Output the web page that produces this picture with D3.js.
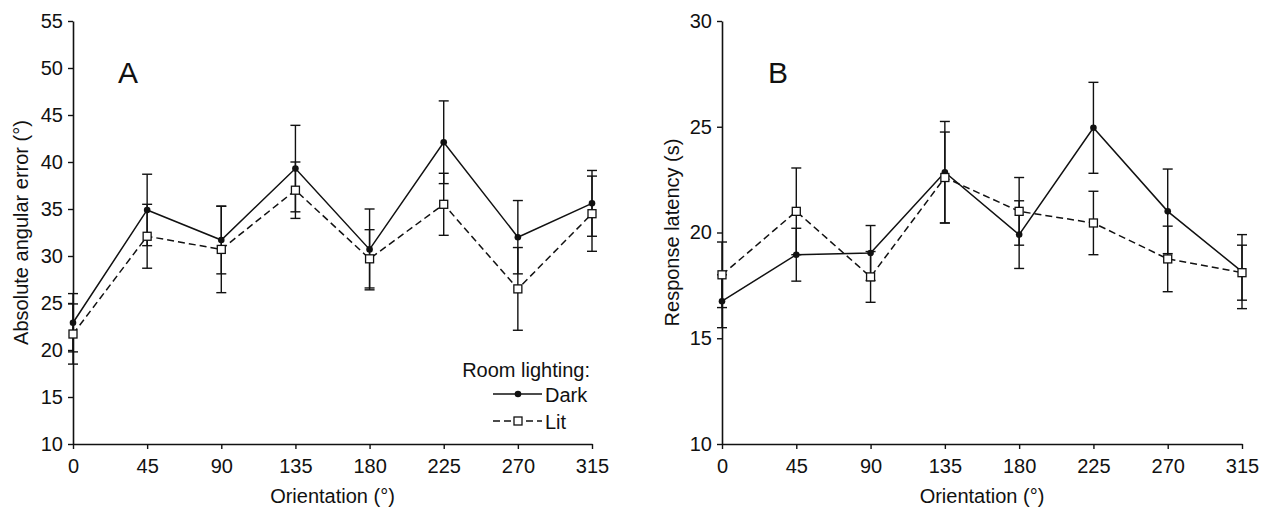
<!doctype html>
<html lang="en">
<head>
<meta charset="UTF-8" />
<title>Room lighting: error and latency</title>
<script src="https://d3js.org/d3.v7.min.js"></script>
<style>
  body { margin: 0; background: #fff; }
  svg text { font-family: "Liberation Sans", Arial, Helvetica, sans-serif; fill: #111; }
</style>
</head>
<body>
<div id="chart"></div>
<script>
// orientations (degrees)
var orientations = [0, 45, 90, 135, 180, 225, 270, 315];

// panel A: absolute angular error (deg)
var errorDark = [22.9, 34.9, 31.7, 39.3, 30.7, 42.1, 32.0, 35.6];
var errorDarkSE = [3.1, 3.8, 3.6, 4.6, 4.3, 4.4, 3.9, 3.5];
var errorLit = [21.7, 32.1, 30.7, 37.0, 29.7, 35.5, 26.5, 34.5];
var errorLitSE = [3.2, 3.4, 4.6, 3.0, 3.1, 3.3, 4.4, 4.0];

// panel B: response latency (s)
var latencyDark = [16.75, 18.95, 19.03, 22.85, 19.9, 24.95, 21.0, 18.15];
var latencyDarkSE = [1.25, 1.25, 1.3, 2.4, 1.6, 2.15, 2.0, 1.75];
var latencyLit = [18.0, 21.0, 17.9, 22.6, 21.0, 20.45, 18.75, 18.1];
var latencyLitSE = [1.55, 2.05, 1.2, 2.15, 1.6, 1.5, 1.55, 1.3];

var yTicksA = [10, 15, 20, 25, 30, 35, 40, 45, 50, 55];
var yTicksB = [10, 15, 20, 25, 30];
var legendTitle = 'Room lighting:';
var seriesNames = ['Dark', 'Lit'];

var width = 1270, height = 507;
var plotTop = 21, plotBottom = 444;

var svg = d3.select('#chart').append('svg')
    .attr('width', width)
    .attr('height', height);

function drawPanel(opts) {
    var x = d3.scaleLinear().domain([0, 315]).range([opts.left, opts.right]);
    var y = d3.scaleLinear()
        .domain([opts.yTicks[0], opts.yTicks[opts.yTicks.length - 1]])
        .range([plotBottom, plotTop]);
    var g = svg.append('g');

    // axes
    var xAxis = g.append('g')
        .attr('transform', 'translate(0,' + plotBottom + ')')
        .call(d3.axisBottom(x).tickValues(orientations).tickSize(5).tickPadding(10).tickSizeOuter(0));
    var yAxis = g.append('g')
        .attr('transform', 'translate(' + opts.left + ',0)')
        .call(d3.axisLeft(y).tickValues(opts.yTicks).tickSize(5).tickPadding(5).tickSizeOuter(0));
    [xAxis, yAxis].forEach(function (a) {
        a.select('.domain').attr('stroke', '#111').attr('stroke-width', 1.6);
        a.selectAll('.tick line').attr('stroke', '#111').attr('stroke-width', 1.4);
        a.selectAll('.tick text').attr('font-size', '20px').attr('font-family', null);
    });

    g.append('text')
        .attr('x', (opts.left + opts.right) / 2)
        .attr('y', 503)
        .attr('text-anchor', 'middle')
        .attr('font-size', '20px')
        .text('Orientation (°)');

    g.append('text')
        .attr('transform', 'translate(' + (opts.left - opts.ylabOffset) + ',' + ((plotTop + plotBottom) / 2) + ') rotate(-90)')
        .attr('text-anchor', 'middle')
        .attr('font-size', '20px')
        .text(opts.ylabel);

    g.append('text')
        .attr('x', opts.left + opts.letterDx)
        .attr('y', 83)
        .attr('font-size', '30px')
        .text(opts.letter);

    var series = [
        { name: 'Dark', vals: opts.dark, se: opts.darkSE, dash: null },
        { name: 'Lit', vals: opts.lit, se: opts.litSE, dash: '7,4' }
    ];

    // error bars
    series.forEach(function (s) {
        var eb = g.append('g').attr('stroke', '#111').attr('stroke-width', 1.4);
        orientations.forEach(function (o, i) {
            var hi = y(s.vals[i] + s.se[i]), lo = y(s.vals[i] - s.se[i]), cx = x(o);
            eb.append('line').attr('x1', cx).attr('x2', cx).attr('y1', hi).attr('y2', lo);
            eb.append('line').attr('x1', cx - 5).attr('x2', cx + 5).attr('y1', hi).attr('y2', hi);
            eb.append('line').attr('x1', cx - 5).attr('x2', cx + 5).attr('y1', lo).attr('y2', lo);
        });
    });

    var line = d3.line()
        .x(function (d, i) { return x(orientations[i]); })
        .y(function (d) { return y(d); });

    series.forEach(function (s) {
        g.append('path')
            .datum(s.vals)
            .attr('fill', 'none')
            .attr('stroke', '#111')
            .attr('stroke-width', 1.5)
            .attr('stroke-dasharray', s.dash)
            .attr('d', line);
    });

    // markers
    g.append('g').selectAll('circle')
        .data(opts.dark)
        .enter().append('circle')
        .attr('cx', function (d, i) { return x(orientations[i]); })
        .attr('cy', function (d) { return y(d); })
        .attr('r', 3.3)
        .attr('fill', '#111');

    g.append('g').selectAll('rect')
        .data(opts.lit)
        .enter().append('rect')
        .attr('x', function (d, i) { return x(orientations[i]) - 4; })
        .attr('y', function (d) { return y(d) - 4; })
        .attr('width', 8)
        .attr('height', 8)
        .attr('fill', '#fff')
        .attr('stroke', '#111')
        .attr('stroke-width', 1.3);

    if (opts.legend) drawLegend(opts.right);
}

function drawLegend(right) {
    var lg = svg.append('g');
    lg.append('text')
        .attr('x', right - 2)
        .attr('y', 377)
        .attr('text-anchor', 'end')
        .attr('font-size', '20px')
        .text(legendTitle);

    seriesNames.forEach(function (name, i) {
        var ly = 394 + i * 27;
        lg.append('line')
            .attr('x1', 493).attr('x2', 542)
            .attr('y1', ly).attr('y2', ly)
            .attr('stroke', '#111')
            .attr('stroke-width', 1.5)
            .attr('stroke-dasharray', i === 1 ? '7,4' : null);
        if (i === 0) {
            lg.append('circle').attr('cx', 518).attr('cy', ly).attr('r', 3.3).attr('fill', '#111');
        } else {
            lg.append('rect').attr('x', 514).attr('y', ly - 4).attr('width', 8).attr('height', 8)
                .attr('fill', '#fff').attr('stroke', '#111').attr('stroke-width', 1.3);
        }
        lg.append('text')
            .attr('x', 545)
            .attr('y', ly + 8)
            .attr('font-size', '20px')
            .text(name);
    });
}

drawPanel({
    left: 73, right: 592, yTicks: yTicksA,
    dark: errorDark, darkSE: errorDarkSE, lit: errorLit, litSE: errorLitSE,
    ylabel: 'Absolute angular error (°)', ylabOffset: 45, letter: 'A', letterDx: 45,
    legend: true
});

drawPanel({
    left: 722, right: 1242, yTicks: yTicksB,
    dark: latencyDark, darkSE: latencyDarkSE, lit: latencyLit, litSE: latencyLitSE,
    ylabel: 'Response latency (s)', ylabOffset: 43, letter: 'B', letterDx: 46,
    legend: false
});
</script>
</body>
</html>
